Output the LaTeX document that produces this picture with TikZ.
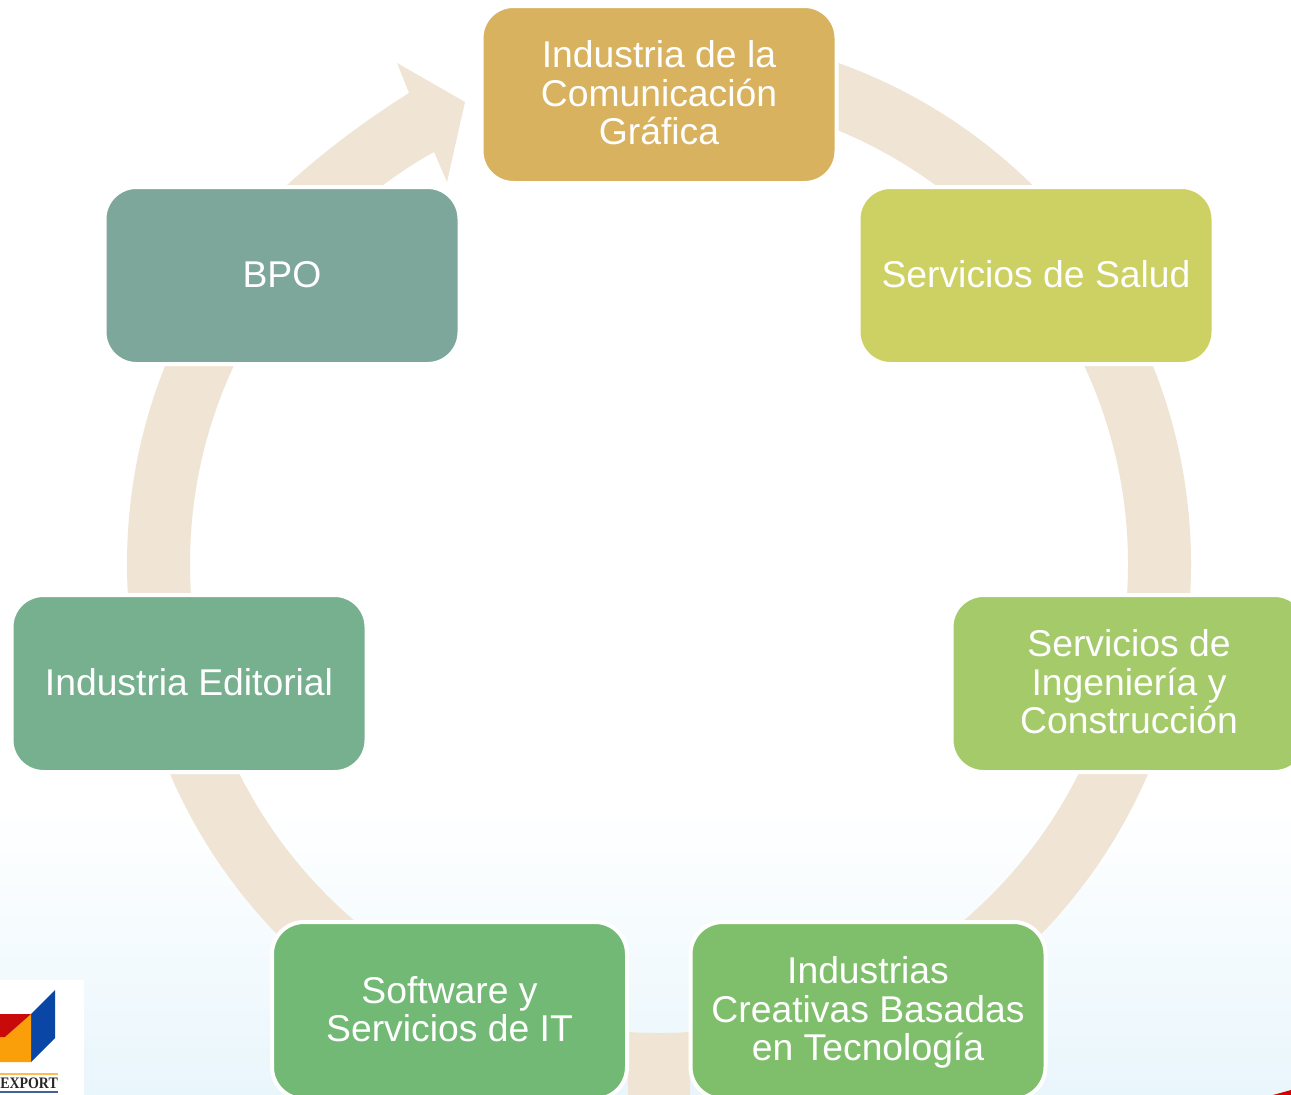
\documentclass[tikz,border=0pt]{standalone}
\usepackage{fontspec}
\setmainfont{Liberation Sans}
\newfontfamily\logofont{Liberation Serif}
\definecolor{ringcol}{HTML}{F0E5D5}
\definecolor{bgblue}{HTML}{E9F6FC}
\definecolor{cardA}{HTML}{D8B25E}
\definecolor{cardB}{HTML}{CDD164}
\definecolor{cardC}{HTML}{A4CA69}
\definecolor{cardD}{HTML}{7FBF6C}
\definecolor{cardE}{HTML}{72B975}
\definecolor{cardF}{HTML}{76B08F}
\definecolor{cardG}{HTML}{7DA79B}
\definecolor{logored}{HTML}{C80A0A}
\definecolor{logoorange}{HTML}{FA9F0A}
\definecolor{logoblue}{HTML}{0A46A5}
\newcommand{\topst}{\rule{0pt}{33pt}}
\newcommand{\botst}{\rule[-9.3pt]{0pt}{9.3pt}}
\begin{document}
\begin{tikzpicture}[x=1pt,y=-1pt,
  card/.style={draw=white,line width=4pt,rounded corners=32pt,minimum width=355pt,minimum height=177pt,inner sep=0pt,align=center,text=white,font=\fontsize{37.3}{38.6}\selectfont},
  ringpart/.style={fill=ringcol,even odd rule}]
\useasboundingbox (0,0) rectangle (1291,1095);
\clip (0,0) rectangle (1291,1095);
\fill[white] (0,0) rectangle (1291,1095);
\shade[top color=white,bottom color=bgblue] (0,805) rectangle (1291,1095);
% logo
\fill[white] (0,980) rectangle (84,1095);
\fill[logoblue] (31,1014) -- (55,990) -- (55,1038) -- (31,1062) -- cycle;
\fill[logoorange] (0,1037) -- (5,1037) -- (31,1014) -- (31,1062) -- (0,1062) -- cycle;
\fill[logored] (0,1014) -- (31,1014) -- (5,1037) -- (0,1037) -- cycle;
\fill[logoorange!70!white] (0,1073) rectangle (58,1075);
\node[anchor=east,inner sep=0pt,xscale=.87,font=\logofont\bfseries\fontsize{16}{16}\selectfont,text=black!85] (logotext) at (58,1083.5) {EXPORT};
\fill[logoblue!50!gray] (0,1091) rectangle (58,1093);
% corner accent
\fill[red!85!black] (1273,1095) -- (1291,1090) -- (1291,1095) -- cycle;
% ring segments
\coordinate (c) at (659,564);
\foreach \xa/\ya/\xb/\yb in {838/0/1291/186, 900/366/1291/593, 900/774/1291/1000, 628/1000/690/1095, 0/774/400/1000, 0/366/400/593}{
  \begin{scope}
    \clip (\xa,\ya) rectangle (\xb,\yb);
    \fill[ringpart] (c) circle[radius=532] (c) circle[radius=469];
  \end{scope}
}
% arrow
\fill[ringcol] (286,186) .. controls (322,153) and (363,122) .. (409,93) -- (397,63) -- (465,102) -- (447,182) -- (434,152) .. controls (416,162) and (399,173) .. (382,186) -- cycle;
% cards
\node[card,fill=cardA] (a) at (659,94.5) {\topst Industria de la\\Comunicación\\Gráfica\botst};
\node[card,fill=cardB] (b) at (1036,275.5) {\topst Servicios de Salud\botst};
\node[card,fill=cardC] (c1) at (1129,683.5) {\topst Servicios de\\Ingeniería y\\Construcción\botst};
\node[card,fill=cardD] (d) at (868,1010.5) {\topst Industrias\\Creativas Basadas\\en Tecnología\botst};
\node[card,fill=cardE] (e) at (449.5,1010.5) {\topst Software y\\Servicios de IT\botst};
\node[card,fill=cardF] (f) at (189,683.5) {\topst Industria Editorial\botst};
\node[card,fill=cardG] (g) at (282,275.5) {\topst BPO\botst};
\end{tikzpicture}
\end{document}
